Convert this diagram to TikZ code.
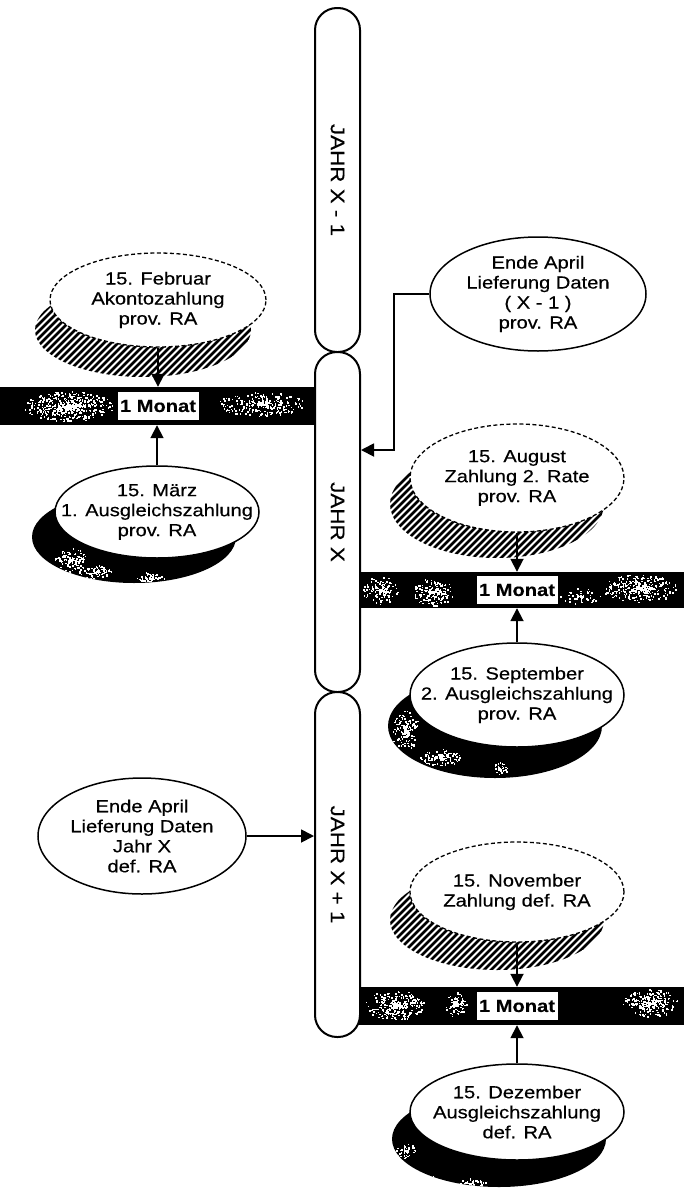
\documentclass[tikz,border=0pt]{standalone}
\usepackage{fontspec}
\setmainfont{Liberation Sans}[FakeStretch=1.15,FakeBold=0.4]
\usetikzlibrary{shapes.geometric,arrows.meta,calc}

% white speckles scattered round a centre: cx, cy, rx, ry, count
\newcommand\mottle[5]{%
  \foreach \k in {1,...,#5}{%
    \pgfmathsetmacro\ma{360*rnd}%
    \pgfmathsetmacro\mr{rnd}%
    \fill[white] ({#1+#3*\mr*cos(\ma)},{#2+#4*\mr*sin(\ma)}) rectangle ++(1.5,1.5);
  }}

% diagonal hatching inside an ellipse: cx, cy, rx, ry
\newcommand\hatchshadow[4]{%
  \begin{scope}
    \clip (#1,#2) ellipse [x radius=#3, y radius=#4];
    \foreach \t in {-180,-173,...,180}
      \draw[line width=2.8pt] ({#1+\t-70},{#2+70}) -- ++(140,-140);
  \end{scope}}

\begin{document}
\begin{tikzpicture}[x=1pt,y=-1pt,
  every node/.style={font=\fontsize{17.5}{20}\selectfont},
  capsule/.style={draw, line width=2pt, fill=white, rounded corners=22pt,
    minimum height=45pt, rotate=-90, inner sep=0pt,
    font=\fontsize{19.5}{22}\selectfont},
  evt/.style={ellipse, draw, line width=1.5pt, fill=white, inner sep=0pt},
  evtdash/.style={evt, line width=1.3pt, dash pattern=on 4pt off 2.5pt},
  txt/.style={align=center, inner sep=0pt},
  bar/.style={fill=black, inner sep=0pt},
  month/.style={fill=white, inner sep=0pt, minimum width=81pt, minimum height=28pt,
    font=\fontsize{17.5}{20}\selectfont\bfseries},
  arr/.style={line width=1.8pt, -{Triangle[length=13pt,width=13pt]}},
]
\useasboundingbox (0,0) rectangle (684,1189);
\pgfmathsetseed{4711}

% ---------- month bars ----------
\node[bar, minimum width=315pt, minimum height=38pt] (bar1) at (157.5,406) {};
\node[bar, minimum width=325pt, minimum height=36pt] (bar2) at (521.5,590) {};
\node[bar, minimum width=325pt, minimum height=38pt] (bar3) at (521.5,1006) {};

\begin{scope}
  \clip (bar1.south west) rectangle (bar1.north east);
  \mottle{68}{406}{45}{15}{460}
  \mottle{262}{404}{45}{12}{280}
\end{scope}
\begin{scope}
  \clip (bar2.south west) rectangle (bar2.north east);
  \mottle{380}{590}{18}{14}{130}
  \mottle{433}{592}{20}{14}{180}
  \mottle{580}{596}{20}{8}{50}
  \mottle{640}{588}{38}{14}{320}
\end{scope}
\begin{scope}
  \clip (bar3.south west) rectangle (bar3.north east);
  \mottle{395}{1005}{30}{15}{280}
  \mottle{455}{1004}{12}{13}{90}
  \mottle{650}{1003}{28}{14}{240}
\end{scope}

% ---------- shadows ----------
\hatchshadow{143}{330}{108}{47}
\hatchshadow{497}{504}{107}{54}
\hatchshadow{497}{920}{107}{50}

\fill (134,537) ellipse [x radius=102, y radius=46];
\fill (495,726) ellipse [x radius=107, y radius=52];
\fill (499,1139) ellipse [x radius=107, y radius=48];
\begin{scope}
  \clip (134,537) ellipse [x radius=102, y radius=46];
  \mottle{70}{560}{16}{12}{120}
  \mottle{95}{572}{16}{8}{90}
  \mottle{150}{578}{14}{6}{60}
\end{scope}
\begin{scope}
  \clip (495,726) ellipse [x radius=107, y radius=52];
  \mottle{405}{730}{14}{20}{160}
  \mottle{440}{757}{20}{9}{120}
  \mottle{500}{768}{7}{6}{40}
\end{scope}
\begin{scope}
  \clip (499,1139) ellipse [x radius=107, y radius=48];
  \mottle{405}{1150}{10}{8}{50}
  \mottle{420}{1178}{14}{6}{60}
  \mottle{470}{1183}{16}{5}{50}
\end{scope}

% ---------- events ----------
\node[evtdash, minimum width=216pt, minimum height=94pt] (feb) at (158,300) {};
\node[txt] (febT) at (feb) {15. Februar\\Akontozahlung\\prov. RA};

\node[evt, minimum width=204pt, minimum height=92pt] (mar) at (157,512) {};
\node[txt] (marT) at (mar) {15. März\\1. Ausgleichszahlung\\prov. RA};

\node[evt, minimum width=216pt, minimum height=114pt] (ea1) at (538,294) {};
\node[txt] (ea1T) at (ea1) {Ende April\\Lieferung Daten\\( X - 1 )\\prov. RA};

\node[evtdash, minimum width=214pt, minimum height=108pt] (aug) at (517,478) {};
\node[txt] (augT) at (aug) {15. August\\Zahlung 2. Rate\\prov. RA};

\node[evt, minimum width=214pt, minimum height=104pt] (sep) at (517,695) {};
\node[txt] (sepT) at (sep) {15. September\\2. Ausgleichszahlung\\prov. RA};

\node[evt, minimum width=208pt, minimum height=116pt] (ea2) at (142,836) {};
\node[txt] (ea2T) at (ea2) {Ende April\\Lieferung Daten\\Jahr X\\def. RA};

\node[evtdash, minimum width=214pt, minimum height=100pt] (nov) at (517,892) {};
\node[txt] (novT) at (nov) {15. November\\Zahlung def. RA};

\node[evt, minimum width=214pt, minimum height=96pt] (dez) at (517,1112) {};
\node[txt] (dezT) at (dez) {15. Dezember\\Ausgleichszahlung\\def. RA};

% ---------- years ----------
\node[capsule, minimum width=344pt] (capA) at (337.5,180) {JAHR X - 1};
\node[capsule, minimum width=340pt] (capB) at (337.5,522) {JAHR X};
\node[capsule, minimum width=345pt] (capC) at (337.5,864.5) {JAHR X + 1};

% ---------- month labels ----------
\node[month] (m1) at (158,406) {1 Monat};
\node[month] (m2) at (517,590) {1 Monat};
\node[month] (m3) at (517,1006) {1 Monat};

% ---------- connectors ----------
\draw[arr] (feb.south) -- (feb.south |- bar1.north);
\draw[arr] (mar.north) -- (mar.north |- bar1.south);
\draw[arr] (aug.south) -- (aug.south |- bar2.north);
\draw[arr] (sep.north) -- (sep.north |- bar2.south);
\draw[arr] (nov.south) -- (nov.south |- bar3.north);
\draw[arr] (dez.north) -- (dez.north |- bar3.south);

\coordinate (bend) at (394,450);
\draw[arr] (ea1.west) -| (bend) -- (bend -| capB.north);
\draw[arr] (ea2.east) -- (ea2.east -| capC.south);
\end{tikzpicture}
\end{document}
